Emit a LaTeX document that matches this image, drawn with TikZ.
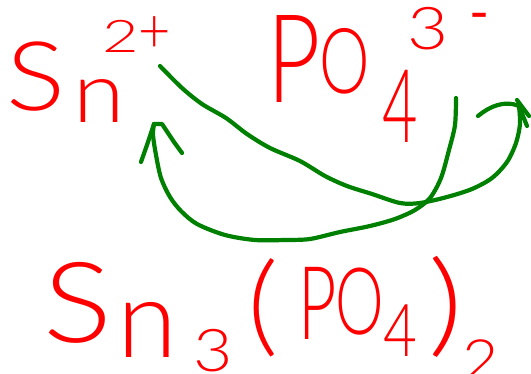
\documentclass[tikz,border=0pt]{standalone}
\usepackage{fontspec}
\setmainfont{Lato}
\newfontfamily\handl{Lato Light}
\newfontfamily\handr{Lato}
\usepackage{xcolor}
\usetikzlibrary{arrows.meta}

\definecolor{chemred}{RGB}{255,0,0}
\definecolor{chemgreen}{RGB}{0,128,0}

\begin{document}
\begin{tikzpicture}[
        x=1pt, y=-1pt,
        glyph/.style n args={3}{
            text=chemred,
            inner sep=0pt,
            font=#1\fontsize{#2}{#2}\selectfont\addfontfeature{FakeStretch=#3}
        },
        swap/.style={draw=chemgreen, line width=4.2pt, line cap=round, line join=round}
    ]
        \useasboundingbox (0,0) rectangle (531,373);
        \clip (0,0) rectangle (531,373);

        % tin ion
        \node[glyph={\handl}{96}{1.15}] (snS) at (36,77) {S};
        \node[glyph={\handl}{85}{1.1}] (snN) at (99,101) {n};
        \node[glyph={\handl}{45}{1.4}] (snTwo) at (121,36) {2};
        \node[glyph={\handl}{62}{0.9}] (snPlus) at (155,35) {+};

        % phosphate ion
        \node[glyph={\handl}{123}{0.75}] (poP) at (294,59) {P};
        \node[glyph={\handl}{91}{0.7}] (poO) at (345,61) {O};
        \node[glyph={\handl}{102}{0.6}] (poFour) at (400,106) {4};
        \node[glyph={\handl}{59}{1.2}] (poThree) at (428,29) {3};
        \node[glyph={\handr}{54}{1}] (poMinus) at (480,22) {-};

        % product
        \node[glyph={\handl}{112}{1.15}] (prS) at (78,303) {S};
        \node[glyph={\handl}{109}{1}] (prN) at (147,330) {n};
        \node[glyph={\handl}{59}{1.15}] (prThree) at (213,351) {3};
        \node[glyph={\handl}{110}{1.1}] (prOpen) at (263,308) {(};
        \node[glyph={\handl}{102}{0.65}] (prP) at (318,303) {P};
        \node[glyph={\handl}{93}{0.66}] (prO) at (360,302) {O};
        \node[glyph={\handl}{73}{0.8}] (prFour) at (400,331) {4};
        \node[glyph={\handl}{113}{1.2}] (prClose) at (446,307) {)};
        \node[glyph={\handl}{57}{1.1}] (prTwo) at (481,360) {2};

        % ends of the crossing arrows
        \coordinate (fromSn) at (160,66);
        \coordinate (toPo) at (519,106);
        \coordinate (fromPo) at (456,98);
        \coordinate (toSn) at (154,124);

        % Sn 2+ goes over to the phosphate side
        \draw[swap] plot[smooth, tension=0.5] coordinates {
            (fromSn) (182,88) (202,104) (226,118) (247,134) (270,148)
            (300,161) (325,176) (347,186) (372,194) (400,203) (420,203)
            (447,197) (472,189) (492,178) (507,162) (516,143) (520,124) (toPo)};
        \draw[swap] (toPo) .. controls (505,100) and (490,106) .. (478,116);
        \draw[swap] (toPo) -- (527,126);
        \draw[swap] (517,100) -- (529,116);

        % phosphate goes over to the tin side
        \draw[swap] plot[smooth, tension=0.5] coordinates {
            (fromPo) (455,125) (449,150) (441,178) (430,198) (415,210)
            (395,219) (370,226) (340,232) (310,239) (285,240) (255,240)
            (225,235) (197,224) (181,211) (170,197) (161,178) (156,155)
            (153,135) (toSn)};
        \draw[swap] (toSn) -- (147,145) -- (141,162);
        \draw[swap] (toSn) -- (162,124) -- (174,142) -- (182,153);
    \end{tikzpicture}
\end{document}
